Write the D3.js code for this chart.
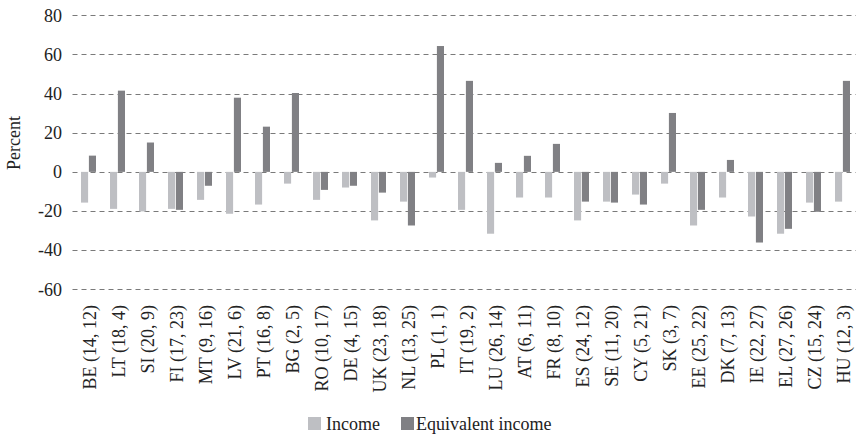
<!DOCTYPE html>
<html>
<head>
<meta charset="utf-8">
<script src="https://cdn.jsdelivr.net/npm/d3@7"></script>
<style>
  body { margin: 0; background: #fff; }
  text { font-family: "Liberation Serif", "Times New Roman", serif; fill: #222; }
</style>
</head>
<body>
<div id="chart"></div>
<script>
// countries with (income rank, equivalent income rank)
const countries = ["BE (14, 12)", "LT (18, 4)", "SI (20, 9)", "FI (17, 23)", "MT (9, 16)", "LV (21, 6)",
    "PT (16, 8)", "BG (2, 5)", "RO (10, 17)", "DE (4, 15)", "UK (23, 18)", "NL (13, 25)", "PL (1, 1)",
    "IT (19, 2)", "LU (26, 14)", "AT (6, 11)", "FR (8, 10)", "ES (24, 12)", "SE (11, 20)", "CY (5, 21)",
    "SK (3, 7)", "EE (25, 22)", "DK (7, 13)", "IE (22, 27)", "EL (27, 26)", "CZ (15, 24)", "HU (12, 3)"];
const income = [-15.7, -18.9, -20.2, -18.9, -14.3, -21.4, -16.7, -6.0, -14.3, -8.0, -24.8, -15.2, -2.9,
    -19.4, -31.6, -13.1, -13.1, -24.8, -15.2, -11.6, -6.0, -27.4, -13.1, -22.8, -31.6, -15.7, -15.2];
const equivalent = [8.3, 41.5, 15.0, -19.4, -7.1, 37.9, 23.1, 40.3, -9.2, -7.1, -10.6, -27.4, 64.3,
    46.5, 4.6, 8.2, 14.3, -15.2, -15.7, -16.7, 30.1, -19.4, 6.1, -36.1, -29.1, -20.4, 46.5];
const seriesNames = ["Income", "Equivalent income"];
const yTicks = [-60, -40, -20, 0, 20, 40, 60, 80];

const colors = ["#bebfc3", "#808084"];
const W = 858, H = 435;

const svg = d3.select("#chart").append("svg")
    .attr("width", W)
    .attr("height", H);

// scales
const y = d3.scaleLinear().domain([-60, 80]).range([289.3, 15.3]);
const x = d3.scaleBand().domain(countries).range([74, 857]);
const sub = d3.scaleBand().domain(seriesNames).range([x.bandwidth() / 2 - 7.5, x.bandwidth() / 2 + 7.5]).paddingInner(0.1);

// grid lines
svg.append("g")
    .selectAll("line")
    .data(yTicks)
    .enter()
    .append("line")
    .attr("x1", 72.5)
    .attr("x2", 856)
    .attr("y1", d => Math.round(y(d)) + 0.5)
    .attr("y2", d => Math.round(y(d)) + 0.5)
    .attr("stroke", "#7a7a7a")
    .attr("stroke-width", 1)
    .attr("stroke-dasharray", "5,4");

// y axis labels (plain hyphen for negatives, like the original)
const yAxis = svg.append("g")
    .attr("transform", "translate(62,0)")
    .call(d3.axisLeft(y).tickValues(yTicks).tickSize(0).tickPadding(0).tickFormat(d => String(d)));
yAxis.select(".domain").remove();
yAxis.selectAll("text")
    .style("font-family", "Liberation Serif")
    .style("font-size", "18px")
    .attr("fill", "#222");

svg.append("text")
    .attr("transform", "translate(20,143) rotate(-90)")
    .attr("text-anchor", "middle")
    .style("font-size", "18px")
    .text("Percent");

// bars
const groups = svg.append("g")
    .selectAll("g")
    .data(countries)
    .enter()
    .append("g")
    .attr("transform", d => `translate(${x(d)},0)`);

groups.selectAll("rect")
    .data((d, i) => [
        {key: seriesNames[0], val: income[i]},
        {key: seriesNames[1], val: equivalent[i]}
    ])
    .enter()
    .append("rect")
    .attr("x", d => sub(d.key))
    .attr("width", sub.bandwidth())
    .attr("y", d => y(Math.max(0, d.val)))
    .attr("height", d => Math.abs(y(d.val) - y(0)))
    .attr("fill", (d, i) => colors[i]);

// x labels
svg.append("g")
    .selectAll("text")
    .data(countries)
    .enter()
    .append("text")
    .attr("transform", d => `translate(${x(d) + x.bandwidth() / 2 + 7},305) rotate(-90)`)
    .attr("text-anchor", "end")
    .style("font-size", "18px")
    .text(d => d);

// legend
const legend = svg.append("g")
    .attr("transform", "translate(308,417)");
const legendX = [0, 93];
seriesNames.forEach((name, i) => {
    legend.append("rect")
        .attr("x", legendX[i])
        .attr("y", 0)
        .attr("width", 13)
        .attr("height", 13)
        .attr("fill", colors[i]);
    legend.append("text")
        .attr("x", legendX[i] + (i === 0 ? 18 : 15))
        .attr("y", 13)
        .style("font-size", "18px")
        .text(name);
});
</script>
</body>
</html>
